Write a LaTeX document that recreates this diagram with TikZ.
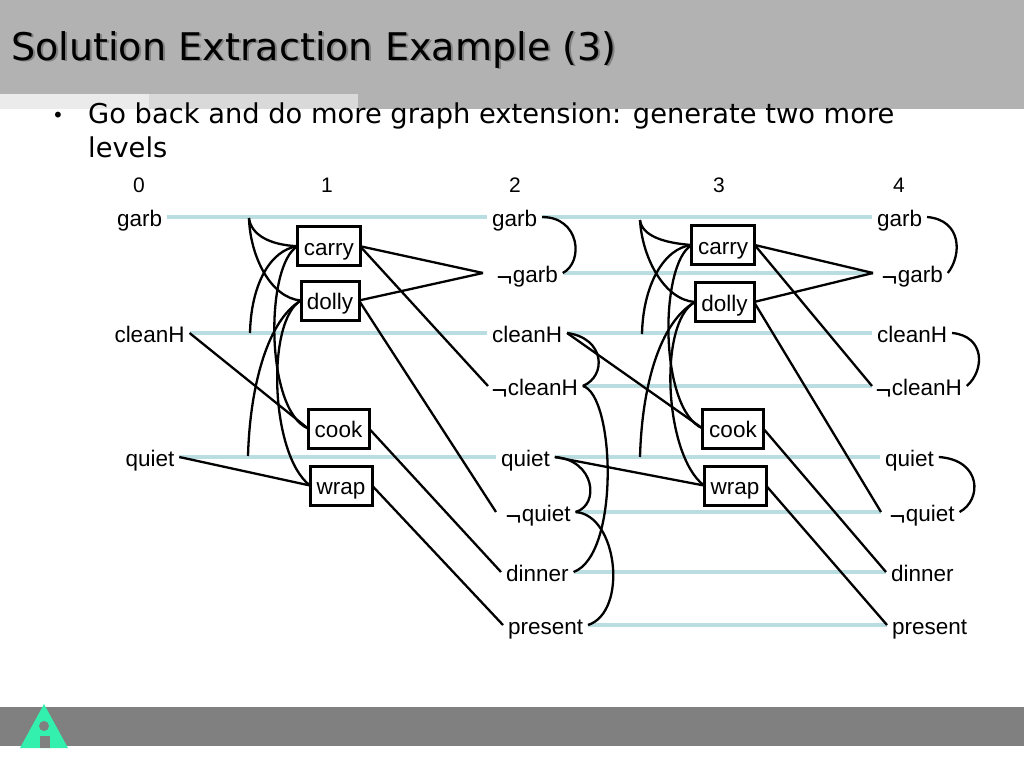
\documentclass[tikz,border=0pt]{standalone}
\usepackage{fontspec}
\setmainfont{Liberation Sans}
\newfontfamily\slidefont{DejaVu Sans}
\newcommand{\nt}{\kern-1.5pt\raisebox{-4.5pt}{\fontsize{27}{27}\selectfont ¬}\kern0.5pt}
\tikzset{
  lbl/.style={anchor=west,inner xsep=5pt,inner ysep=0pt,outer sep=0pt,text height=22pt,text depth=4pt,font=\fontsize{22.5}{24}\selectfont},
  numlbl/.style={inner sep=0pt,font=\fontsize{21}{24}\selectfont},
  actbox/.style={draw=black,line width=3pt,fill=white,inner sep=0pt,outer sep=0pt,text height=22.5pt,text depth=4pt,font=\fontsize{22.5}{24}\selectfont},
  lev/.style={draw=levblue,line width=4pt},
  conn/.style={draw=black,line width=2.3pt},
}
\definecolor{levblue}{HTML}{B9DDE0}
\definecolor{headgray}{HTML}{B2B2B2}
\definecolor{footgray}{HTML}{808080}
\definecolor{tealgreen}{HTML}{33F0AE}
\begin{document}
\begin{tikzpicture}[x=1pt,y=-1pt]
\useasboundingbox (0,0) rectangle (1024,768);
% header and footer
\fill[headgray] (0,0) rectangle (1024,109);
\fill[white] (0,94) rectangle (358,109);
\fill[black!8] (0,94) rectangle (149,109);
\fill[black!15] (149,94) rectangle (358,109);
\fill[footgray] (0,707) rectangle (1024,746);
\fill[tealgreen] (44,704) -- (68,748) -- (20,748) -- cycle;
\fill[footgray] (44,726) circle (5);
\fill[footgray] (39.5,736) rectangle (50,748);
% titles
\node[anchor=base west,inner sep=0pt,text=footgray,font=\slidefont\fontsize{38.1}{40}\selectfont] (titleshadow) at (13,62) {Solution Extraction Example (3)};
\node[anchor=base west,inner sep=0pt,font=\slidefont\fontsize{38.1}{40}\selectfont] (title) at (11,60) {Solution Extraction Example (3)};
\node[anchor=base,inner sep=0pt,font=\slidefont\fontsize{20}{24}\selectfont] (bullet) at (58,122) {•};
\node[anchor=base west,inner sep=0pt,font=\slidefont\fontsize{27.3}{30}\selectfont] (bodya) at (88,123) {Go back and do more graph extension: generate two more};
\node[anchor=base west,inner sep=0pt,font=\slidefont\fontsize{27.3}{30}\selectfont] (bodyb) at (88,157) {levels};
% column numbers
\node[numlbl] (n0) at (139,185) {0};
\node[numlbl] (n1) at (327,185) {1};
\node[numlbl] (n2) at (515,185) {2};
\node[numlbl] (n3) at (719,185) {3};
\node[numlbl] (n4) at (899,185) {4};
% labels level 0
\node[lbl] (garbA) at (112,217) {garb};
\node[lbl] (cleanA) at (109.5,333) {cleanH};
\node[lbl] (quietA) at (120.5,457) {quiet};
% labels level 2
\node[lbl] (garbB) at (487,217) {garb};
\node[lbl] (ngarbB) at (493,273) {\nt garb};
\node[lbl] (cleanB) at (487,333) {cleanH};
\node[lbl] (ncleanB) at (488,386) {\nt cleanH};
\node[lbl] (quietB) at (496,457) {quiet};
\node[lbl] (nquietB) at (502,512) {\nt quiet};
\node[lbl] (dinnerB) at (501,572) {dinner};
\node[lbl] (presentB) at (503,625) {present};
% labels level 4
\node[lbl] (garbC) at (872,217) {garb};
\node[lbl] (ngarbC) at (878,273) {\nt garb};
\node[lbl] (cleanC) at (872,333) {cleanH};
\node[lbl] (ncleanC) at (872,386) {\nt cleanH};
\node[lbl] (quietC) at (880,457) {quiet};
\node[lbl] (nquietC) at (886,512) {\nt quiet};
\node[lbl] (dinnerC) at (886,572) {dinner};
\node[lbl] (presentC) at (887,625) {present};
% free ends
\coordinate (gtapA) at (249,218);
\coordinate (ctapA) at (250,333);
\coordinate (qtapA) at (248,456);
\coordinate (gtapB) at (640,220);
\coordinate (ctapB) at (642,334);
\coordinate (qtapB) at (640,457);
\coordinate (mgarbB) at (483,273);
\coordinate (mquietB) at (496,512);
\coordinate (mgarbC) at (873,273);
\coordinate (mquietC) at (881,512);
% level lines
\draw[lev] (garbA.east) -- (garbB.west);
\draw[lev] (cleanA.east) -- (cleanB.west);
\draw[lev] (quietA.east) -- (quietB.west);
\draw[lev] (garbB.east) -- (garbC.west);
\draw[lev] (ngarbB.east) -- (mgarbC);
\draw[lev] (cleanB.east) -- (cleanC.west);
\draw[lev] (ncleanB.east) -- (ncleanC.west);
\draw[lev] (quietB.east) -- (quietC.west);
\draw[lev] (nquietB.east) -- (mquietC);
\draw[lev] (dinnerB.east) -- (dinnerC.west);
\draw[lev] (presentB.east) -- (presentC.west);
% action boxes
\node[actbox,minimum width=62.5pt,minimum height=39pt] (carryA) at (328.8,246.2) {carry};
\node[actbox,minimum width=58pt,minimum height=39pt] (dollyA) at (330,300.5) {dolly};
\node[actbox,minimum width=61pt,minimum height=39pt] (cookA) at (338.5,428.5) {cook};
\node[actbox,minimum width=62pt,minimum height=39pt] (wrapA) at (341,485.5) {wrap};
\node[actbox,minimum width=63pt,minimum height=38.5pt] (carryB) at (723.2,245) {carry};
\node[actbox,minimum width=59pt,minimum height=39pt] (dollyB) at (724.5,302) {dolly};
\node[actbox,minimum width=60.5pt,minimum height=39pt] (cookB) at (733,428.5) {cook};
\node[actbox,minimum width=62pt,minimum height=39pt] (wrapB) at (735,485.5) {wrap};
% left action group
\draw[conn] (gtapA) .. controls (251,235) and (270,245) .. (carryA.west);
\draw[conn] (gtapA) .. controls (250,255) and (270,298) .. (dollyA.west);
\draw[conn] (ctapA) .. controls (251,285) and (270,250) .. (carryA.west);
\draw[conn] (qtapA) .. controls (250,385) and (268,320) .. (dollyA.west);
\draw[conn] (carryA.west) .. controls (265,265) and (265,410) .. (cookA.west);
\draw[conn] (dollyA.west) .. controls (266,320) and (270,455) .. (wrapA.west);
\draw[conn] (cleanA.east) -- (cookA.west);
\draw[conn] (quietA.east) -- (wrapA.west);
\draw[conn] (carryA.east) -- (mgarbB);
\draw[conn] (carryA.east) -- (ncleanB.west);
\draw[conn] (dollyA.east) -- (mgarbB);
\draw[conn] (dollyA.east) -- (mquietB);
\draw[conn] (cookA.east) -- (dinnerB.west);
\draw[conn] (wrapA.east) -- (presentB.west);
% right action group
\draw[conn] (gtapB) .. controls (642,236) and (664,243) .. (carryB.west);
\draw[conn] (gtapB) .. controls (642,257) and (664,300) .. (dollyB.west);
\draw[conn] (ctapB) .. controls (643,285) and (664,248) .. (carryB.west);
\draw[conn] (qtapB) .. controls (642,385) and (660,322) .. (dollyB.west);
\draw[conn] (carryB.west) .. controls (659,264) and (659,410) .. (cookB.west);
\draw[conn] (dollyB.west) .. controls (658,322) and (664,455) .. (wrapB.west);
\draw[conn] (cleanB.east) -- (cookB.west);
\draw[conn] (quietB.east) -- (wrapB.west);
\draw[conn] (carryB.east) -- (mgarbC);
\draw[conn] (carryB.east) -- (ncleanC.west);
\draw[conn] (dollyB.east) -- (mgarbC);
\draw[conn] (dollyB.east) -- (mquietC);
\draw[conn] (cookB.east) -- (dinnerC.west);
\draw[conn] (wrapB.east) -- (presentC.west);
% mutex arcs
\draw[conn] (garbB.east) .. controls (580,217) and (584,262) .. (ngarbB.east);
\draw[conn] (cleanB.east) .. controls (605,338) and (607,376) .. (ncleanB.east);
\draw[conn] (ncleanB.east) .. controls (615,395) and (620,555) .. (dinnerB.east);
\draw[conn] (quietB.east) .. controls (595,460) and (600,505) .. (nquietB.east);
\draw[conn] (nquietB.east) .. controls (618,515) and (628,612) .. (presentB.east);
\draw[conn] (garbC.east) .. controls (962,220) and (962,255) .. (ngarbC.east);
\draw[conn] (cleanC.east) .. controls (985,336) and (985,370) .. (ncleanC.east);
\draw[conn] (quietC.east) .. controls (982,460) and (982,500) .. (nquietC.east);
\end{tikzpicture}
\end{document}
